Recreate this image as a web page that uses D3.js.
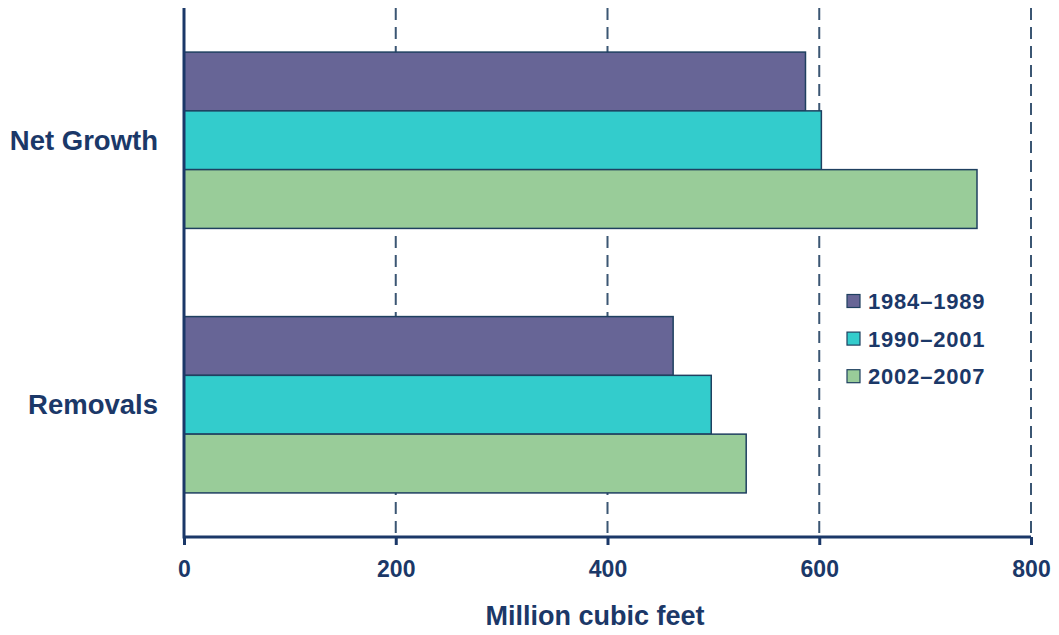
<!DOCTYPE html>
<html>
<head>
<meta charset="utf-8">
<script src="https://cdn.jsdelivr.net/npm/d3@7"></script>
<style>
  html, body { margin: 0; padding: 0; background: #ffffff; }
  svg { display: block; font-family: "Liberation Sans", Arial, sans-serif; font-weight: bold; }
</style>
</head>
<body>
<svg id="chart" width="1059" height="635"></svg>
<script>
// Growth vs. removals, million cubic feet, by inventory period
const categories = ["Net Growth", "Removals"];
const periods = ["1984\u20131989", "1990\u20132001", "2002\u20132007"];
const netGrowth = [587, 602, 749];
const removals = [462, 498, 531];
const xTicks = [0, 200, 400, 600, 800];
const colors = ["#676596", "#33cccc", "#99cc99"];

const seriesByCategory = [netGrowth, removals];

const svg = d3.select("#chart");
const margin = { left: 184, right: 28, top: 8, bottom: 98 };
const W = 1059, H = 635;
const ink = "#1b3868";
const gridInk = "#3b5673";
const edge = "#1f4060";

const x = d3.scaleLinear().domain([0, 800]).range([margin.left, W - margin.right]);
const y = d3.scaleBand().domain(categories).range([margin.top, H - margin.bottom])
  .paddingInner(1 / 3).paddingOuter(1 / 6);
const yInner = d3.scaleBand().domain(periods).range([0, y.bandwidth()]);

// dashed vertical gridlines
svg.append("g").selectAll("line")
  .data(xTicks.filter(d => d > 0))
  .join("line")
  .attr("x1", d => x(d)).attr("x2", d => x(d))
  .attr("y1", margin.top).attr("y2", H - margin.bottom)
  .attr("stroke", gridInk).attr("stroke-width", 2)
  .attr("stroke-dasharray", "12,7");

// bars
const groups = svg.append("g").selectAll("g")
  .data(categories)
  .join("g")
  .attr("transform", d => `translate(0,${y(d)})`);

groups.selectAll("rect")
  .data((d, i) => seriesByCategory[i].map((v, j) => ({ period: periods[j], value: v, j })))
  .join("rect")
  .attr("x", x(0))
  .attr("y", d => yInner(d.period))
  .attr("width", d => x(d.value) - x(0))
  .attr("height", yInner.bandwidth())
  .attr("fill", d => colors[d.j])
  .attr("stroke", edge).attr("stroke-width", 1.5);

// x axis
const xAxis = d3.axisBottom(x).tickValues(xTicks).tickSize(8).tickPadding(16).tickFormat(d3.format("d"));
const gx = svg.append("g")
  .attr("transform", `translate(0,${H - margin.bottom})`)
  .call(xAxis);
gx.select(".domain").attr("stroke", ink).attr("stroke-width", 3)
  .attr("d", `M${x(0)},0H${x(800)}`);
gx.selectAll(".tick line").attr("stroke", ink).attr("stroke-width", 3);
gx.selectAll(".tick text")
  .attr("fill", ink).attr("font-size", 23).attr("font-weight", "bold")
  .attr("font-family", "'Liberation Sans', Arial, sans-serif");

// y axis line
svg.append("line")
  .attr("x1", x(0)).attr("x2", x(0))
  .attr("y1", margin.top).attr("y2", H - margin.bottom + 1.5)
  .attr("stroke", ink).attr("stroke-width", 3);

// category labels
svg.append("g").selectAll("text")
  .data(categories)
  .join("text")
  .attr("x", 158)
  .attr("y", d => y(d) + y.bandwidth() / 2)
  .attr("dy", "0.35em")
  .attr("text-anchor", "end")
  .attr("font-size", 27.5)
  .attr("fill", ink)
  .text(d => d);

// axis title
svg.append("text")
  .attr("x", 595).attr("y", 625)
  .attr("text-anchor", "middle")
  .attr("font-size", 27)
  .attr("fill", ink)
  .text("Million cubic feet");

// legend
const legend = svg.append("g").attr("transform", "translate(847,301)");
const items = legend.selectAll("g")
  .data(periods)
  .join("g")
  .attr("transform", (d, i) => `translate(0,${i * 37.6})`);
items.append("rect")
  .attr("x", 0).attr("y", -6.5).attr("width", 13).attr("height", 13)
  .attr("fill", (d, i) => colors[i])
  .attr("stroke", edge).attr("stroke-width", 1.2);
items.append("text")
  .attr("x", 21).attr("y", 0).attr("dy", "0.36em")
  .attr("font-size", 22)
  .attr("letter-spacing", 0.8)
  .attr("fill", ink)
  .text(d => d);
</script>
</body>
</html>
